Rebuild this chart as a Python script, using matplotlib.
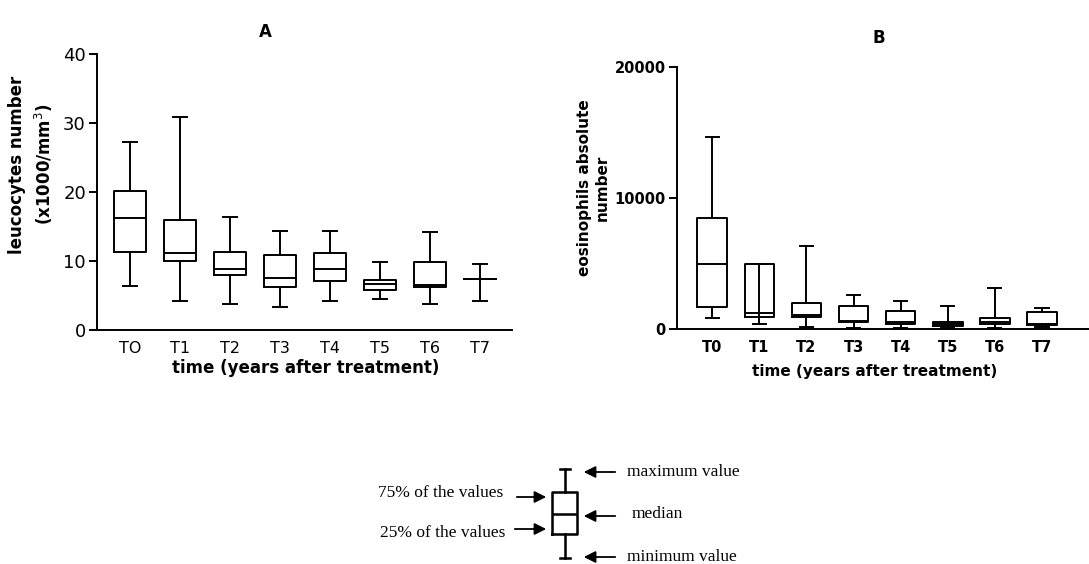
import matplotlib
matplotlib.use("Agg")
import matplotlib.pyplot as plt

# time points
labels_a = ["TO", "T1", "T2", "T3", "T4", "T5", "T6", "T7"]
labels_b = ["T0", "T1", "T2", "T3", "T4", "T5", "T6", "T7"]

# A: leucocytes number (x1000/mm3)
leu_min = [6.4, 4.25, 3.8, 3.4, 4.25, 4.5, 3.8, 4.25]
leu_q1 = [11.35, 10.0, 7.9, 6.2, 7.15, 5.8, 6.2, 7.35]
leu_med = [16.2, 11.1, 8.9, 7.5, 8.9, 6.7, 6.5, 7.35]
leu_q3 = [20.1, 15.9, 11.3, 10.8, 11.1, 7.3, 9.8, 7.35]
leu_max = [27.2, 30.8, 16.4, 14.4, 14.4, 9.85, 14.25, 9.6]

# B: eosinophils absolute number
eos_min = [810, 350, 120, 80, 80, 80, 80, 120]
eos_q1 = [1650, 910, 910, 530, 400, 230, 400, 300]
eos_med = [4970, 1250, 1090, 630, 530, 350, 530, 400]
eos_q3 = [8450, 4970, 1980, 1750, 1350, 530, 810, 1270]
eos_max = [14620, 4970, 6370, 2610, 2100, 1750, 3150, 1620]

LW = 1.4
W = 1089
H = 564


def stats(lo, q1, med, q3, hi):
    return [dict(whislo=a, q1=b, med=c, q3=d, whishi=e, fliers=[])
            for a, b, c, d, e in zip(lo, q1, med, q3, hi)]


def draw_boxes(ax, st):
    line = dict(color="black", linewidth=LW)
    ax.bxp(st, positions=range(len(st)), widths=0.63, capwidths=0.28,
           showfliers=False, boxprops=line, whiskerprops=line,
           capprops=line, medianprops=line)
    for s in ("top", "right"):
        ax.spines[s].set_visible(False)
    for s in ("left", "bottom"):
        ax.spines[s].set_linewidth(LW)
    ax.tick_params(axis="x", length=0, pad=8)
    ax.tick_params(axis="y", length=6, width=LW, pad=2)


fig = plt.figure(figsize=(W / 100, H / 100), dpi=100)

# panel A
ax_a = fig.add_axes([97 / W, 1 - 330 / H, 415 / W, 276 / H])
draw_boxes(ax_a, stats(leu_min, leu_q1, leu_med, leu_q3, leu_max))
ax_a.set_xlim(-0.66, 7.64)
ax_a.set_ylim(0, 40)
ax_a.set_yticks([0, 10, 20, 30, 40])
ax_a.set_xticks(range(len(labels_a)))
ax_a.set_xticklabels(labels_a, fontsize=11.5)
ax_a.tick_params(axis="y", labelsize=13)
ax_a.set_xlabel("time (years after treatment)", fontsize=12, fontweight="bold")
ax_a.xaxis.set_label_coords(0.504, -0.105)
ax_a.set_ylabel("leucocytes number\n(x1000/mm$^3$)", fontsize=12,
                fontweight="bold", linespacing=1.4)
ax_a.yaxis.set_label_coords(-0.1, 0.6)
ax_a.set_title("A", fontsize=12, fontweight="bold", x=0.405, y=1.03)

# panel B
ax_b = fig.add_axes([677 / W, 1 - 329 / H, 412 / W, 262 / H])
draw_boxes(ax_b, stats(eos_min, eos_q1, eos_med, eos_q3, eos_max))
# T1: the whisker line shows through the open box
ax_b.vlines(1, eos_min[1], eos_max[1], color="black", linewidth=LW)
ax_b.set_xlim(-0.75, 8.0)
ax_b.set_ylim(0, 20000)
ax_b.set_yticks([0, 10000, 20000])
ax_b.set_xticks(range(len(labels_b)))
ax_b.set_xticklabels(labels_b, fontsize=10.5, fontweight="bold")
ax_b.tick_params(axis="y", labelsize=10.5)
for t in ax_b.get_yticklabels():
    t.set_fontweight("bold")
ax_b.set_xlabel("time (years after treatment)", fontsize=11, fontweight="bold")
ax_b.xaxis.set_label_coords(0.48, -0.135)
ax_b.set_ylabel("eosinophils absolute\nnumber", fontsize=11,
                fontweight="bold", linespacing=1.2)
ax_b.yaxis.set_label_coords(-0.163, 0.54)
ax_b.set_title("B", fontsize=12, fontweight="bold", x=0.49, y=1.06)

# key at the bottom, drawn in pixel coordinates
key = fig.add_axes([0, 0, 1, 1])
key.set_xlim(0, W)
key.set_ylim(H, 0)
key.axis("off")
key_stats = [dict(whislo=558, q1=534, med=514, q3=492, whishi=469, fliers=[])]
line = dict(color="black", linewidth=LW * 1.3)
key.bxp(key_stats, positions=[564.5], widths=25, capwidths=10,
        showfliers=False, boxprops=line, whiskerprops=line,
        capprops=line, medianprops=line, manage_ticks=False)

arrow = dict(arrowstyle="-|>,head_length=0.7,head_width=0.35", color="black", lw=1.3)
serif = dict(family="Liberation Serif", fontsize=12.5, va="center")

key.annotate("", xy=(549, 497), xytext=(514, 497), arrowprops=arrow)
key.annotate("", xy=(549, 529), xytext=(512, 529), arrowprops=arrow)
key.text(503, 493, "75% of the values", ha="right", **serif)
key.text(505, 533, "25% of the values", ha="right", **serif)

key.annotate("", xy=(581, 472), xytext=(618, 472), arrowprops=arrow)
key.annotate("", xy=(581, 516), xytext=(618, 516), arrowprops=arrow)
key.annotate("", xy=(581, 557), xytext=(618, 557), arrowprops=arrow)
key.text(627, 472, "maximum value", ha="left", **serif)
key.text(632, 514, "median", ha="left", **serif)
key.text(627, 557, "minimum value", ha="left", **serif)

fig.savefig("out.png", dpi=100)
